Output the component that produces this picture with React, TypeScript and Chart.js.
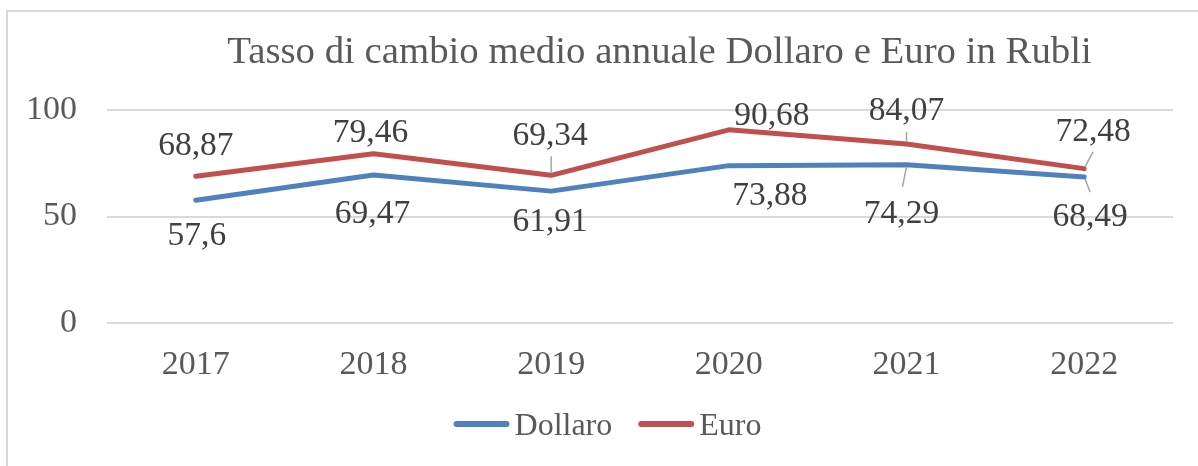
import React, { useEffect, useRef } from "react";
import { Chart, registerables } from "chart.js";
Chart.register(...registerables);

const years = ["2017", "2018", "2019", "2020", "2021", "2022"];
const dollaro = [57.6, 69.47, 61.91, 73.88, 74.29, 68.49];
const euro = [68.87, 79.46, 69.34, 90.68, 84.07, 72.48];
const seriesNames = ["Dollaro", "Euro"];
const titleText = "Tasso di cambio medio annuale Dollaro e Euro in Rubli";
const yMin = 0;
const yMax = 100;
const yStep = 50;

// label placement (offsets of label centre from its point), separate from the data
const dollaroLabelOffsets = [[1, 34], [-1, 37], [-1, 29], [41, 28], [-5, 47], [6, 38]];
const euroLabelOffsets = [[0, -32], [-3, -23], [-1, -41], [43, -16], [0, -35], [9, -39]];
const dollaroLeaders = [null, null, null, null, [0, 2, -4, 22], [1, 2, 6, 15]];
const euroLeaders = [null, null, [0, -19, 0, -2], null, [0, -12, 0, -2], [9, -17, 1, -2]];

const FONT = '"Liberation Serif", "Times New Roman", serif';
const BLUE = "#4F81BD";
const RED = "#C0504D";
const fmt = (v: number) => String(v).replace(".", ",");

const decor = {
  id: "decor",
  beforeDraw(chart: any) {
    const ctx = chart.ctx;
    ctx.save();
    ctx.fillStyle = "#fff";
    ctx.fillRect(0, 0, chart.width, chart.height);
    ctx.strokeStyle = "#d9d9d9";
    ctx.lineWidth = 2;
    ctx.beginPath();
    ctx.moveTo(7, chart.height + 5);
    ctx.lineTo(7, 11);
    ctx.lineTo(chart.width + 5, 11);
    ctx.stroke();
    ctx.fillStyle = "#595959";
    ctx.font = `38.8px ${FONT}`;
    ctx.textAlign = "center";
    ctx.textBaseline = "alphabetic";
    ctx.fillText(titleText, 659.5, 63);
    ctx.restore();
  },
  afterDatasetsDraw(chart: any) {
    const ctx = chart.ctx;
    ctx.save();
    const offsets = [dollaroLabelOffsets, euroLabelOffsets];
    const leaders = [dollaroLeaders, euroLeaders];
    chart.data.datasets.forEach((ds: any, i: number) => {
      const meta = chart.getDatasetMeta(i);
      meta.data.forEach((pt: any, j: number) => {
        const ld = leaders[i][j];
        if (ld) {
          ctx.strokeStyle = "#a6a6a6";
          ctx.lineWidth = 1.5;
          ctx.beginPath();
          ctx.moveTo(pt.x + ld[0], pt.y + ld[1]);
          ctx.lineTo(pt.x + ld[2], pt.y + ld[3]);
          ctx.stroke();
        }
        const [dx, dy] = offsets[i][j];
        ctx.fillStyle = "#404040";
        ctx.font = `33.5px ${FONT}`;
        ctx.textAlign = "center";
        ctx.textBaseline = "alphabetic";
        ctx.fillText(fmt(ds.data[j]), pt.x + dx, pt.y + dy + 11);
      });
    });
    // legend
    const items = [
      { name: seriesNames[0], color: BLUE },
      { name: seriesNames[1], color: RED },
    ];
    ctx.font = `32px ${FONT}`;
    const lineLen = 56;
    const gap = 5;
    const itemGap = 26;
    const widths = items.map((it) => lineLen + gap + ctx.measureText(it.name).width);
    const total = widths.reduce((a, b) => a + b, 0) + itemGap * (items.length - 1);
    let x = 607.5 - total / 2;
    const ly = 424;
    items.forEach((it, k) => {
      ctx.strokeStyle = it.color;
      ctx.lineWidth = 6;
      ctx.lineCap = "round";
      ctx.beginPath();
      ctx.moveTo(x + 3, ly);
      ctx.lineTo(x + lineLen - 3, ly);
      ctx.stroke();
      ctx.fillStyle = "#595959";
      ctx.textAlign = "left";
      ctx.textBaseline = "alphabetic";
      ctx.fillText(it.name, x + lineLen + gap, ly + 11);
      x += widths[k] + itemGap;
    });
    ctx.restore();
  },
};

export default function App() {
  const ref = useRef<HTMLCanvasElement>(null);
  useEffect(() => {
    if (!ref.current) return;
    const chart = new Chart(ref.current, {
      type: "line",
      data: {
        labels: years,
        datasets: [
          {
            label: seriesNames[0],
            data: dollaro,
            borderColor: BLUE,
            backgroundColor: BLUE,
            borderWidth: 5,
            pointRadius: 0,
            tension: 0,
            borderJoinStyle: "round",
            borderCapStyle: "round",
          },
          {
            label: seriesNames[1],
            data: euro,
            borderColor: RED,
            backgroundColor: RED,
            borderWidth: 5,
            pointRadius: 0,
            tension: 0,
            borderJoinStyle: "round",
            borderCapStyle: "round",
          },
        ],
      },
      options: {
        responsive: false,
        animation: false,
        layout: { padding: { top: 110, right: 25, bottom: 81, left: 0 } },
        plugins: {
          legend: { display: false },
          title: { display: false },
          tooltip: { enabled: false },
        },
        scales: {
          x: {
            offset: true,
            afterFit: (s: any) => {
              s.height = 62;
            },
            grid: { display: false, drawTicks: false },
            border: { display: false },
            ticks: {
              color: "#595959",
              font: { family: FONT, size: 34 },
              padding: 22,
              maxRotation: 0,
            },
          },
          y: {
            min: yMin,
            max: yMax,
            afterFit: (s: any) => {
              s.width = 107;
            },
            grid: { color: "#d9d9d9", lineWidth: 2, drawTicks: false },
            border: { display: false },
            ticks: {
              stepSize: yStep,
              color: "#595959",
              font: { family: FONT, size: 34 },
              padding: 30,
            },
          },
        },
      },
      plugins: [decor],
    });
    return () => chart.destroy();
  }, []);
  return (
    <div style={{ position: "fixed", left: 0, top: 0, width: 1198, height: 466 }}>
      <canvas ref={ref} width={1198} height={466} />
    </div>
  );
}
